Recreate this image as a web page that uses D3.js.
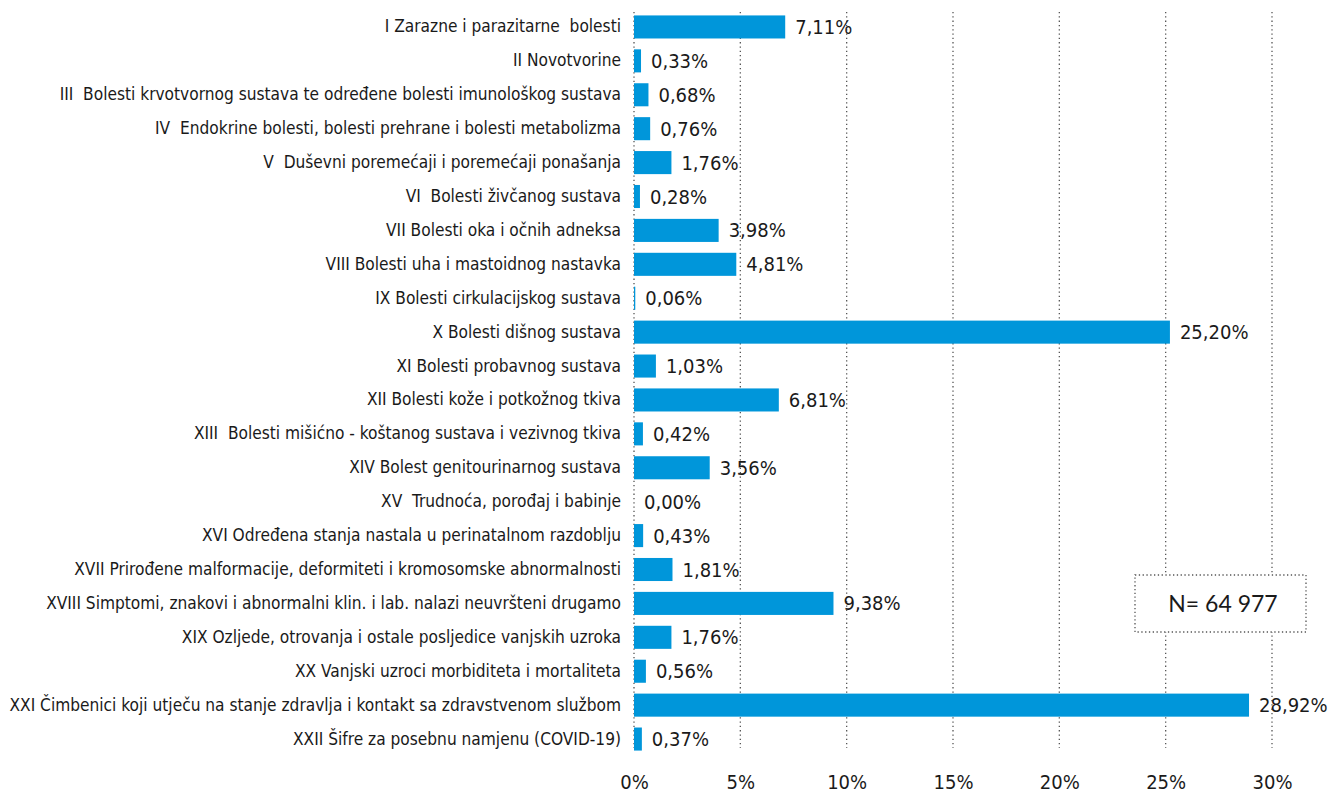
<!DOCTYPE html>
<html><head><meta charset="utf-8">
<script src="https://cdn.jsdelivr.net/npm/d3@7"></script>
<style>
html,body{margin:0;padding:0;background:#fff;}
svg{display:block;}
.lbl{white-space:pre;}
</style></head>
<body><svg id="c" width="1334" height="796"></svg>
<script>
const categories = [
"I Zarazne i parazitarne  bolesti",
"II Novotvorine",
"III  Bolesti krvotvornog sustava te određene bolesti imunološkog sustava",
"IV  Endokrine bolesti, bolesti prehrane i bolesti metabolizma",
"V  Duševni poremećaji i poremećaji ponašanja",
"VI  Bolesti živčanog sustava",
"VII Bolesti oka i očnih adneksa",
"VIII Bolesti uha i mastoidnog nastavka",
"IX Bolesti cirkulacijskog sustava",
"X Bolesti dišnog sustava",
"XI Bolesti probavnog sustava",
"XII Bolesti kože i potkožnog tkiva",
"XIII  Bolesti mišićno - koštanog sustava i vezivnog tkiva",
"XIV Bolest genitourinarnog sustava",
"XV  Trudnoća, porođaj i babinje",
"XVI Određena stanja nastala u perinatalnom razdoblju",
"XVII Prirođene malformacije, deformiteti i kromosomske abnormalnosti",
"XVIII Simptomi, znakovi i abnormalni klin. i lab. nalazi neuvršteni drugamo",
"XIX Ozljede, otrovanja i ostale posljedice vanjskih uzroka",
"XX Vanjski uzroci morbiditeta i mortaliteta",
"XXI Čimbenici koji utječu na stanje zdravlja i kontakt sa zdravstvenom službom",
"XXII Šifre za posebnu namjenu (COVID-19)"
];
const values = [7.11,0.33,0.68,0.76,1.76,0.28,3.98,4.81,0.06,25.20,1.03,6.81,0.42,3.56,0.00,0.43,1.81,9.38,1.76,0.56,28.92,0.37];
const ticks = [0,5,10,15,20,25,30];
const tickLabels = ["0%","5%","10%","15%","20%","25%","30%"];
const noteText = "N= 64 977";

const svg = d3.select("#c");
const narrow = "'Liberation Sans Narrow','DejaVu Sans Condensed','Arial Narrow',sans-serif";
const x = d3.scaleLinear().domain([0,30]).range([634,1272]);
const y = d3.scaleBand().domain(categories).range([10,756]).paddingInner(0.32).paddingOuter(0.16);

// gridlines
svg.append("g").selectAll("line").data(ticks).join("line")
  .attr("x1",d=>x(d)).attr("x2",d=>x(d)).attr("y1",12).attr("y2",748)
  .attr("stroke","#555").attr("stroke-width",1.3).attr("stroke-dasharray","1.3,3");

// tick labels
const xAxis = d3.axisBottom(x).tickValues(ticks).tickFormat((d,i)=>tickLabels[i]).tickSize(0).tickPadding(0);
const gx = svg.append("g").attr("transform","translate(0,775)").call(xAxis);
gx.select(".domain").remove();
gx.selectAll("text").attr("font-family",narrow).attr("font-size",20).attr("fill","#1a1a1a");

// N box
svg.append("rect").attr("x",1135).attr("y",575).attr("width",171).attr("height",57)
  .attr("fill","#fff").attr("stroke","#555").attr("stroke-width",1.3).attr("stroke-dasharray","1.3,2.5");
svg.append("text").attr("x",1223).attr("y",604).attr("dy","0.35em").attr("text-anchor","middle")
  .attr("font-family","Lato,'Open Sans',sans-serif").attr("font-size",23).attr("fill","#1a1a1a").text(noteText);

// bars
svg.append("g").selectAll("rect").data(values).join("rect")
  .attr("x",x(0)).attr("y",(d,i)=>y(categories[i]))
  .attr("width",d=>x(d)-x(0)).attr("height",y.bandwidth())
  .attr("fill","#0096da");

// category labels
const yAxis = d3.axisLeft(y).tickSize(0).tickPadding(0);
const gy = svg.append("g").attr("transform","translate(621,0)").call(yAxis);
gy.select(".domain").remove();
const labs = gy.selectAll("text").attr("class","lbl").attr("font-family",narrow).attr("font-size",20).attr("fill","#1a1a1a");
// fit the longest label into the left margin
let maxW = 0;
labs.each(function(){ maxW = Math.max(maxW, this.getComputedTextLength()); });
const fs = Math.min(20, 20 * 612 / maxW);
labs.attr("font-size", fs);

// value labels
svg.append("g").selectAll("text").data(values).join("text")
  .attr("x",d=>x(d)+10).attr("y",(d,i)=>y(categories[i])+y.bandwidth()/2).attr("dy","0.35em")
  .attr("font-family",narrow).attr("font-size",20).attr("fill","#1a1a1a")
  .text(d=>d.toFixed(2).replace(".",",")+"%");
</script></body></html>
